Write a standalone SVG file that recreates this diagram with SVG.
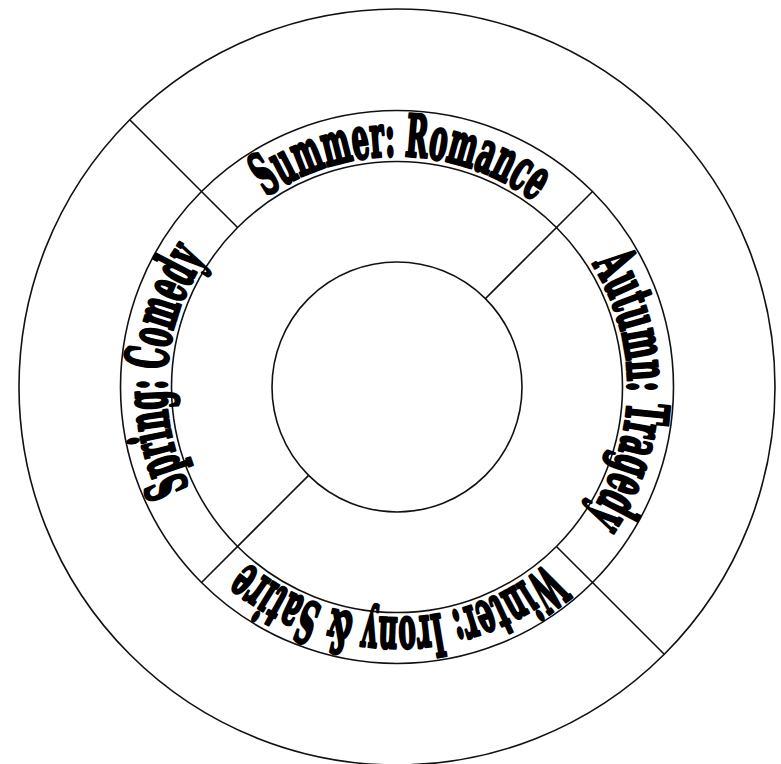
<svg xmlns="http://www.w3.org/2000/svg" xmlns:xlink="http://www.w3.org/1999/xlink" width="781" height="764" viewBox="0 0 781 764">
<style>
.ring{fill:none;stroke:#111;stroke-width:1.6}
.div{stroke:#111;stroke-width:1.6;fill:none}
.lbl{font-family:"DejaVu Serif Condensed","DejaVu Serif",serif;font-weight:bold;font-size:58px;fill:#000;stroke:#000;stroke-width:3;stroke-linejoin:round}
</style>
<defs>
<path id="pSummer" d="M 166.03 382.97 A 231 231 0 0 1 627.97 391.03"/>
<path id="pAutumn" d="M 401.03 156.03 A 231 231 0 0 1 392.97 617.97"/>
<path id="pWinter" d="M 628 387 A 231 231 0 0 1 166 387"/>
<path id="pSpring" d="M 380.89 617.44 A 231 231 0 0 1 413.11 156.56"/>
</defs>
<rect width="781" height="764" fill="#fff"/>
<g id="rings">
<circle class="ring" cx="397" cy="387" r="378"/>
<circle class="ring" cx="397" cy="387" r="276.5"/>
<circle class="ring" cx="397" cy="387" r="225.5"/>
<circle class="ring" cx="397" cy="387" r="125"/>
</g>
<g id="connectors">
<line class="div" x1="237.55" y1="227.55" x2="129.72" y2="119.72"/>
<line class="div" x1="485.39" y1="298.61" x2="592.51" y2="191.49"/>
<line class="div" x1="308.61" y1="475.39" x2="201.49" y2="582.51"/>
<line class="div" x1="556.45" y1="546.45" x2="664.28" y2="654.28"/>
</g>
<g id="summer">
<text class="lbl"><textPath xlink:href="#pSummer" href="#pSummer" startOffset="50%" text-anchor="middle" textLength="286" lengthAdjust="spacingAndGlyphs">Summer: Romance</textPath></text>
</g>
<g id="autumn">
<text class="lbl"><textPath xlink:href="#pAutumn" href="#pAutumn" startOffset="50%" text-anchor="middle" textLength="268" lengthAdjust="spacingAndGlyphs">Autumn: Tragedy</textPath></text>
</g>
<g id="winter">
<text class="lbl"><textPath xlink:href="#pWinter" href="#pWinter" startOffset="50%" text-anchor="middle" textLength="326" lengthAdjust="spacingAndGlyphs">Winter: Irony &amp; Satire</textPath></text>
</g>
<g id="spring">
<text class="lbl"><textPath xlink:href="#pSpring" href="#pSpring" startOffset="50%" text-anchor="middle" textLength="241" lengthAdjust="spacingAndGlyphs">Spring: Comedy</textPath></text>
</g>
</svg>
